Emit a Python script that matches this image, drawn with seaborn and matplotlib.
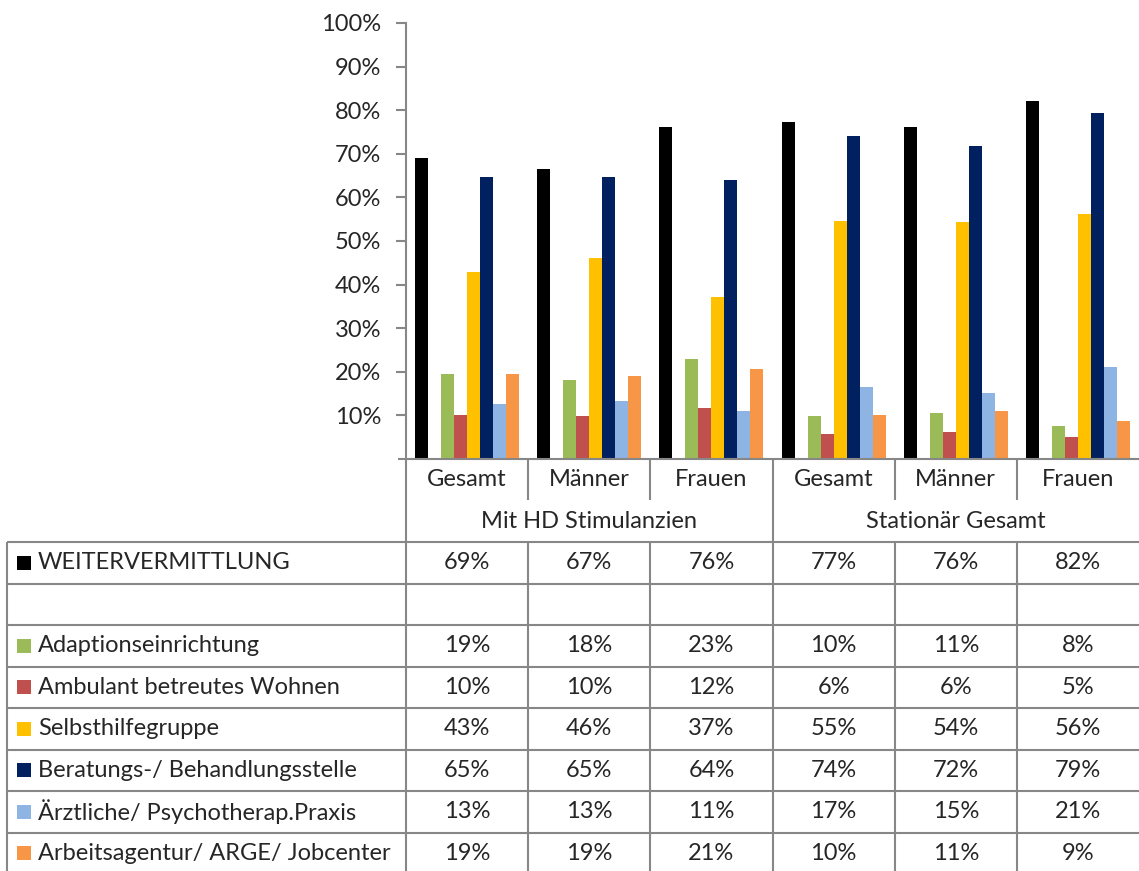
import matplotlib
matplotlib.use("Agg")
import matplotlib.pyplot as plt
import seaborn as sns
import pandas as pd
import numpy as np

# chart data (percent)
groups = ["Mit HD Stimulanzien", "Stationär Gesamt"]
sub_cats = ["Gesamt", "Männer", "Frauen"]
series = ["WEITERVERMITTLUNG", " ", "Adaptionseinrichtung", "Ambulant betreutes Wohnen",
          "Selbsthilfegruppe", "Beratungs-/ Behandlungsstelle",
          "Ärztliche/ Psychotherap.Praxis", "Arbeitsagentur/ ARGE/ Jobcenter"]
weiter = [69.1, 66.6, 76.1, 77.4, 76.1, 82.2]
blank = [0, 0, 0, 0, 0, 0]
adaption = [19.4, 18.2, 22.9, 9.8, 10.6, 7.6]
ambulant = [10.2, 9.8, 11.8, 5.8, 6.1, 5.0]
selbsthilfe = [43.0, 46.1, 37.1, 54.6, 54.4, 56.1]
beratung = [64.6, 64.6, 64.0, 74.0, 71.7, 79.4]
aerztlich = [12.6, 13.4, 11.0, 16.6, 15.1, 21.0]
arbeit = [19.4, 19.0, 20.6, 10.2, 10.9, 8.7]
colors = ["#000000", "#FFFFFF", "#9BBB59", "#C0504D", "#FFC000", "#002060", "#8EB4E3", "#F79646"]

values = [weiter, blank, adaption, ambulant, selbsthilfe, beratung, aerztlich, arbeit]
cols = [f"{g}|{s}" for g in groups for s in sub_cats]
rows = []
for name, vals in zip(series, values):
    for c, v in zip(cols, vals):
        rows.append({"col": c, "series": name, "value": v})
df = pd.DataFrame(rows)

sns.set_style("white")
plt.rcParams['font.family'] = ['Lato', 'DejaVu Sans']
FS = 17
GRAY = "#878787"

W, H = 1139, 871
fig = plt.figure(figsize=(W / 100, H / 100), dpi=100)

# pixel helper axes for table / category labels
tab = fig.add_axes([0, 0, 1, 1])
tab.set_xlim(0, W)
tab.set_ylim(H, 0)
tab.axis("off")

x0, x1, y_top, y_base = 406, 1139, 23, 459
ax = fig.add_axes([x0 / W, (H - y_base) / H, (x1 - x0) / W, (y_base - y_top) / H])
sns.barplot(data=df, x="col", y="value", hue="series", hue_order=series, order=cols,
            palette=colors, saturation=1, width=0.85, linewidth=0, errorbar=None,
            legend=False, ax=ax)
ax.set_ylim(0, 100)
ax.set_xlim(-0.5, len(cols) - 0.5)
ax.set_yticks(np.arange(10, 101, 10))
ax.set_yticklabels([f"{t}%" for t in range(10, 101, 10)], fontsize=FS)
ax.set_xticks([])
ax.set_xlabel("")
ax.set_ylabel("")
for s in ["top", "right"]:
    ax.spines[s].set_visible(False)
for s in ["left", "bottom"]:
    ax.spines[s].set_color(GRAY)
    ax.spines[s].set_linewidth(1.5)
ax.tick_params(axis="y", left=True, length=7, width=1.5, color=GRAY, pad=11)

# category axis + data table drawn in pixel coords
col_w = (x1 - x0) / len(cols)
edges = [x0 + i * col_w for i in range(len(cols) + 1)]
row_top = 542
row_h = 41.5
lkw = dict(color=GRAY, lw=1.5, solid_capstyle="butt")
tab.plot([398, x0], [y_base, y_base], **lkw)
for i, e in enumerate(edges[:-1]):
    if i % 3 == 0:
        tab.plot([e, e], [y_base, H], **lkw)
    else:
        tab.plot([e, e], [y_base, 500], **lkw)
        tab.plot([e, e], [row_top, H], **lkw)
for i, c in enumerate(cols):
    tab.text(x0 + (i + 0.5) * col_w, 479, c.split("|")[1], ha="center", va="center", fontsize=FS)
for j, g in enumerate(groups):
    tab.text(x0 + (j * 3 + 1.5) * col_w, 521, g, ha="center", va="center", fontsize=FS)

tab.plot([7, 7], [row_top, H], **lkw)
for r in range(len(series) + 1):
    y = row_top + r * row_h
    if y < H - 2:
        tab.plot([7, W], [y, y], **lkw)
for r, (name, vals, colr) in enumerate(zip(series, values, colors)):
    yc = row_top + (r + 0.5) * row_h
    if name.strip() == "":
        continue
    tab.add_patch(plt.Rectangle((17, yc - 7), 14, 14, color=colr, lw=0))
    tab.text(38, yc, name, ha="left", va="center", fontsize=FS)
    for i, v in enumerate(vals):
        tab.text(x0 + (i + 0.5) * col_w, yc, f"{v:.0f}%", ha="center", va="center", fontsize=FS)

fig.savefig("out.png", dpi=100)
